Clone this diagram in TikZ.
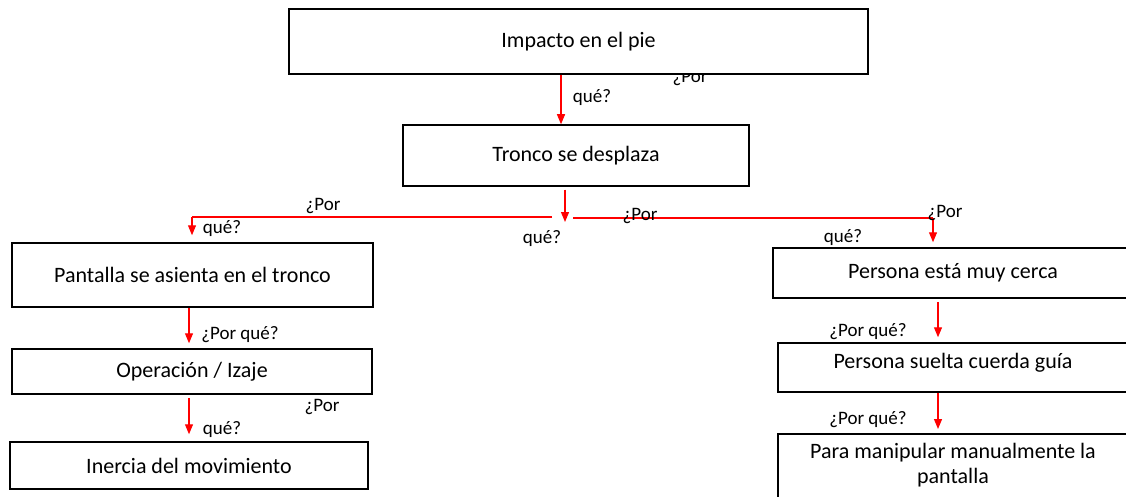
\documentclass[tikz,border=0pt]{standalone}
\usepackage{fontspec}
\setmainfont{Carlito}
\usetikzlibrary{arrows.meta,calc}
\begin{document}
\begin{tikzpicture}[x=1pt,y=-1pt,
  box/.style={draw=black,line width=1.5pt,fill=white,inner sep=0pt,font=\fontsize{22}{26}\selectfont,align=center},
  lbl/.style={inner sep=0pt,font=\fontsize{19}{22}\selectfont},
  rline/.style={draw=red,line width=1.2pt},
  arr/.style={rline,-{Triangle[width=8pt,length=10pt]}}]
\clip (0,0) rectangle (1126,497);
\fill[white] (0,0) rectangle (1126,497);
% labels behind boxes
\node[lbl] (l0a) at (690,78) {¿Por};
\node[lbl] (l0b) at (592,98) {qué?};
% boxes
\node[box,minimum width=579,minimum height=65] (impacto) at (578.5,41.5) {Impacto en el pie};
\node[box,minimum width=346,minimum height=61] (tronco) at (576,155.5) {Tronco se desplaza};
\node[box,minimum width=361,minimum height=64] (pantalla) at (192.5,275) {Pantalla se asienta en el tronco};
\node[box,minimum width=360,minimum height=45] (operacion) at (192,371.5) {Operación / Izaje};
\node[box,minimum width=358,minimum height=47] (inercia) at (189,465.5) {Inercia del movimiento};
\node[box,minimum width=360,minimum height=50] (persona) at (953,273) {Persona está muy cerca};
\node[box,minimum width=350,minimum height=49] (suelta) at (953,367.5) {};
\node[inner sep=0pt,font=\fontsize{22}{26}\selectfont] (stext) at (953,363) {Persona suelta cuerda guía};
\node[box,minimum width=350,minimum height=90,anchor=north] (manipular) at (953,433) {};
\node[inner sep=0pt,font=\fontsize{22}{25}\selectfont,align=center] (mtext) at (953,465) {Para manipular manualmente la\\pantalla};
% connectors
\draw[arr] (impacto.south -| 561,0) -- (tronco.north -| 561,0);
\coordinate (hub) at (565,222);
\coordinate (hl) at (552,217);
\coordinate (hl2) at (192,217);
\coordinate (hr) at (573,218);
\coordinate (hr2) at (933,218);
\draw[arr] ($(tronco.south -| 565,0)+(0,3)$) -- (hub);
\draw[rline] (hl) -- (hl2);
\draw[arr,shorten >=7pt] (hl2) -- (pantalla.north -| hl2);
\draw[rline] (hr) -- (hr2);
\draw[arr,shorten >=5pt] (hr2) -- (persona.north -| hr2);
\draw[arr] (pantalla.south -| 189,0) -- ($(operacion.north -| 189,0)+(0,-5)$);
\draw[arr] ($(operacion.south -| 189,0)+(0,3)$) -- ($(inercia.north -| 189,0)+(0,-7)$);
\draw[arr] ($(persona.south -| 938,0)+(0,3)$) -- ($(suelta.north -| 938,0)+(0,-5)$);
\draw[arr] (suelta.south -| 938,0) -- ($(manipular.north -| 938,0)+(0,-4)$);
% labels
\node[lbl] (l1a) at (323,206) {¿Por};
\node[lbl] (l1b) at (222,229) {qué?};
\node[lbl] (l2b) at (542,239) {qué?};
\node[lbl] (l3a) at (640,216) {¿Por};
\node[lbl] (l4a) at (945,213) {¿Por};
\node[lbl] (l4b) at (843,238) {qué?};
\node[lbl] (l5) at (240,335) {¿Por qué?};
\node[lbl] (l6a) at (322,407) {¿Por};
\node[lbl] (l6b) at (222,430) {qué?};
\node[lbl] (l7) at (868,332) {¿Por qué?};
\node[lbl] (l8) at (868,420) {¿Por qué?};
\end{tikzpicture}
\end{document}
